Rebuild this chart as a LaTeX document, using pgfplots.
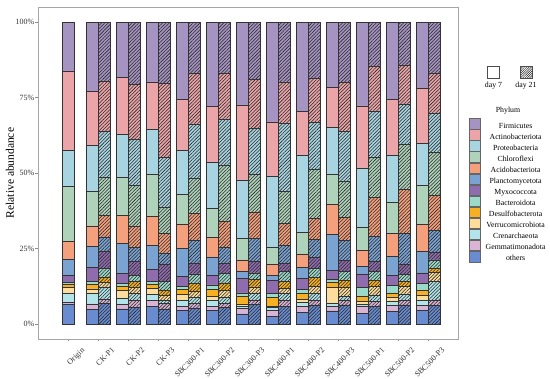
\documentclass[border=0pt]{standalone}
\usepackage{fontspec}
\setmainfont{Liberation Serif}
\usepackage{pgfplots}
\pgfplotsset{compat=1.18}
\usepackage{pgfplotstable}
\usetikzlibrary{patterns.meta}

\definecolor{cFirm}{RGB}{165,148,194}
\definecolor{cActi}{RGB}{235,165,168}
\definecolor{cProt}{RGB}{168,212,226}
\definecolor{cChlo}{RGB}{174,211,186}
\definecolor{cAcid}{RGB}{245,160,125}
\definecolor{cPlan}{RGB}{122,163,210}
\definecolor{cMyxo}{RGB}{143,108,173}
\definecolor{cBact}{RGB}{155,217,201}
\definecolor{cDesu}{RGB}{246,176,33}
\definecolor{cVerr}{RGB}{252,221,155}
\definecolor{cCren}{RGB}{177,229,234}
\definecolor{cGemm}{RGB}{218,180,212}
\definecolor{cOthe}{RGB}{105,140,209}

% day 7 bars (and Origin at x=0)
\pgfplotstableread{
x others gem cren verr desulf bact myxo planc acido chloro proteo actino firm
0    6.5 0.8 2.9 2.0 0.8 0.8 2.4 5.3 5.8 18.3 11.8 26.4 16.2
0.8  4.9 1.7 3.5 1.5 1.5 1.1 4.5 7.0 6.8 11.5 15.1 17.9 23.0
1.8  5.0 1.4 2.2 2.6 1.2 1.0 3.3 9.9 9.3 12.7 14.3 18.7 18.4
2.8  5.9 1.8 2.0 2.1 1.3 1.0 3.9 8.1 9.6 13.9 14.8 15.8 19.8
3.8  4.6 1.3 1.8 2.0 1.8 1.0 3.3 9.2 8.0 10.1 14.3 17.1 25.5
4.8  4.6 1.3 1.8 1.5 2.2 1.5 3.3 6.0 6.4 9.6 15.4 18.4 28.0
5.8  3.3 1.9 0.7 0.7 2.4 1.3 4.8 2.3 3.8 7.1 19.4 24.9 27.4
6.8  2.6 2.0 0.9 0.4 2.9 1.3 4.4 1.7 3.6 5.7 23.4 18.0 33.1
7.8  3.9 1.8 1.5 0.9 2.0 1.3 3.7 3.7 4.4 7.2 25.6 14.4 29.6
8.8  4.3 1.5 1.2 5.1 1.7 0.9 3.0 12.0 10.0 10.0 15.4 13.2 21.7
9.8  3.4 2.3 0.8 0.9 1.7 3.0 4.3 2.7 5.3 7.5 19.8 20.5 27.8
10.8 4.2 1.9 1.4 1.3 1.4 2.5 3.3 6.4 7.5 10.3 15.8 18.3 25.7
11.8 4.6 1.6 1.5 1.8 1.7 2.2 3.5 7.2 8.9 12.8 13.9 18.3 22.0
}\plaintab

% day 21 bars
\pgfplotstableread{
x others gem cren verr desulf bact myxo planc acido chloro proteo actino firm
1.2  6.7 1.6 3.7 1.8 1.8 2.7 5.7 4.8 7.2 12.7 15.0 16.8 19.5
2.2  5.5 2.2 2.5 1.8 2.0 2.2 4.6 4.6 7.1 13.4 15.4 18.1 20.6
3.2  5.0 1.9 0.9 1.7 1.7 2.8 5.9 3.6 6.4 8.6 16.7 24.6 20.2
4.2  5.3 1.5 2.1 1.8 2.8 3.1 3.6 7.4 8.9 11.9 17.8 16.9 16.9
5.2  5.4 1.5 1.8 2.4 2.5 3.2 3.2 5.5 8.4 18.6 15.4 15.1 17.0
6.2  6.4 1.4 2.4 2.1 2.4 2.2 3.7 7.8 8.7 12.6 15.2 16.1 19.0
7.2  5.9 1.8 2.4 1.7 2.2 3.3 2.9 5.9 7.1 10.6 22.7 13.5 20.0
8.2  6.3 1.4 2.5 2.3 2.8 3.1 3.6 6.0 7.0 16.1 15.7 14.5 18.7
9.2  6.3 1.6 1.3 2.9 2.4 2.8 3.8 6.6 7.7 12.0 16.3 16.3 20.0
10.2 5.8 1.6 2.2 2.9 2.0 2.8 3.3 8.4 13.0 13.3 15.3 14.9 14.5
11.2 6.3 1.5 2.0 2.7 1.7 2.2 3.5 10.2 14.4 14.9 13.5 12.9 14.2
12.2 6.2 1.6 6.4 2.9 1.4 2.7 2.7 7.2 11.5 14.2 13.1 13.2 16.9
}\hatchtab

\pgfplotsset{
  pb/.style={fill=#1, draw=black!80, line width=0.5pt},
  hb/.style={fill=#1, draw=black!80, line width=0.5pt,
    postaction={pattern={Lines[angle=45,distance=2.4pt,line width=0.55pt]}, pattern color=black!85}},
  common/.style={scale only axis, width=420pt, height=332pt,
    xmin=-1.02, xmax=12.98, ymin=-5, ymax=105,
    ybar stacked, bar width=12pt},
}

\begin{document}
\begin{tikzpicture}
\begin{axis}[common,
  xtick={0,...,12},
  xticklabels={Origin,CK-P1,CK-P2,CK-P3,SBC300-P1,SBC300-P2,SBC300-P3,SBC400-P1,SBC400-P2,SBC400-P3,SBC500-P1,SBC500-P2,SBC500-P3},
  ytick={0,25,50,75,100},
  yticklabels={0\%,25\%,50\%,75\%,100\%},
  tick pos=left, tick align=outside, major tick length=2.5pt,
  tick style={black!45, line width=0.5pt},
  axis line style={black!35, line width=0.8pt},
  ticklabel style={font=\fontsize{8}{9}\selectfont, text=black!80},
  xticklabel style={xshift=12.5pt, yshift=-4pt, rotate=45, anchor=north east, inner sep=1pt},
  yticklabel style={inner sep=1pt},
  ylabel={Relative abundance},
  ylabel style={at={(axis description cs:-0.067,0.5)}, anchor=center, font=\fontsize{11.5}{13}\selectfont},
  every axis plot post/.append style={legend image code/.code={\draw[##1, draw=black!60, line width=0.4pt] (0pt,-2.7pt) rectangle (11.2pt,7.95pt);}},
  reverse legend,
  legend cell align=center,
  legend style={at={(axis description cs:1.026,0.665)}, anchor=north west, draw=none, fill=none,
    inner sep=0pt, row sep=-0.55pt, font=\fontsize{7.8}{8.5}\selectfont,
    nodes={inner sep=0pt, outer sep=0pt},
    /tikz/every odd column/.append style={column sep=5pt}},
]
\addplot[pb=cOthe] table[x=x,y=others]{\plaintab}; \addlegendentry{others}
\addplot[pb=cGemm] table[x=x,y=gem]{\plaintab}; \addlegendentry{Gemmatimonadota}
\addplot[pb=cCren] table[x=x,y=cren]{\plaintab}; \addlegendentry{Crenarchaeota}
\addplot[pb=cVerr] table[x=x,y=verr]{\plaintab}; \addlegendentry{Verrucomicrobiota}
\addplot[pb=cDesu] table[x=x,y=desulf]{\plaintab}; \addlegendentry{Desulfobacterota}
\addplot[pb=cBact] table[x=x,y=bact]{\plaintab}; \addlegendentry{Bacteroidota}
\addplot[pb=cMyxo] table[x=x,y=myxo]{\plaintab}; \addlegendentry{Myxococcota}
\addplot[pb=cPlan] table[x=x,y=planc]{\plaintab}; \addlegendentry{Planctomycetota}
\addplot[pb=cAcid] table[x=x,y=acido]{\plaintab}; \addlegendentry{Acidobacteriota}
\addplot[pb=cChlo] table[x=x,y=chloro]{\plaintab}; \addlegendentry{Chloroflexi}
\addplot[pb=cProt] table[x=x,y=proteo]{\plaintab}; \addlegendentry{Proteobacteria}
\addplot[pb=cActi] table[x=x,y=actino]{\plaintab}; \addlegendentry{Actinobacteriota}
\addplot[pb=cFirm] table[x=x,y=firm]{\plaintab}; \addlegendentry{Firmicutes}
\end{axis}

\begin{axis}[common, hide axis]
\addplot[hb=cOthe] table[x=x,y=others]{\hatchtab};
\addplot[hb=cGemm] table[x=x,y=gem]{\hatchtab};
\addplot[hb=cCren] table[x=x,y=cren]{\hatchtab};
\addplot[hb=cVerr] table[x=x,y=verr]{\hatchtab};
\addplot[hb=cDesu] table[x=x,y=desulf]{\hatchtab};
\addplot[hb=cBact] table[x=x,y=bact]{\hatchtab};
\addplot[hb=cMyxo] table[x=x,y=myxo]{\hatchtab};
\addplot[hb=cPlan] table[x=x,y=planc]{\hatchtab};
\addplot[hb=cAcid] table[x=x,y=acido]{\hatchtab};
\addplot[hb=cChlo] table[x=x,y=chloro]{\hatchtab};
\addplot[hb=cProt] table[x=x,y=proteo]{\hatchtab};
\addplot[hb=cActi] table[x=x,y=actino]{\hatchtab};
\addplot[hb=cFirm] table[x=x,y=firm]{\hatchtab};
\end{axis}

% legend for sampling day
\node[draw=black!70, line width=0.5pt, fill=white, minimum size=11.7pt, inner sep=0pt] at (455.5pt,267pt) {};
\node[draw=black!70, line width=0.5pt, minimum size=11.7pt, inner sep=0pt,
  pattern={Lines[angle=45,distance=1.6pt,line width=0.5pt]}, pattern color=black!85] at (488pt,267pt) {};
\node[font=\fontsize{7.8}{9}\selectfont] at (455.5pt,253pt) {day 7};
\node[font=\fontsize{7.8}{9}\selectfont] at (488pt,253pt) {day 21};
\node[font=\fontsize{7.8}{9}\selectfont] at (470pt,228.5pt) {Phylum};

\pgfresetboundingbox
\useasboundingbox (-38pt,-40pt) rectangle (512pt,339pt);
\end{tikzpicture}
\end{document}
